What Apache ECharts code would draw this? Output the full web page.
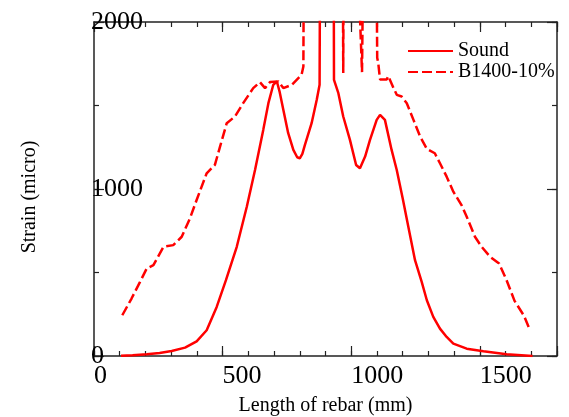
<!DOCTYPE html>
<html>
<head>
<meta charset="utf-8">
<script src="https://cdn.jsdelivr.net/npm/echarts@6/dist/echarts.min.js"></script>
<style>html,body{margin:0;padding:0;background:#fff;}#c{width:569px;height:417px;}</style>
</head>
<body>
<div id="c"></div>
<script>
// x: length of rebar (mm), y: strain (micro)
const soundX = [105,150,205,255,302,354,399,438,477,513,555,594,626,658,678,697,711,722,736,755,775,790,800,810,820,846,866,877,880,931,933,950,969,995,1019,1034,1054,1073,1099,1112,1131,1157,1177,1200,1222,1248,1274,1294,1319,1345,1371,1397,1449,1514,1604,1705];
const soundY = [2,5,10,18,30,50,88,154,294,454,654,894,1114,1354,1514,1624,1644,1580,1474,1334,1234,1190,1184,1210,1264,1394,1534,1624,2900,2900,1654,1574,1434,1294,1144,1124,1194,1294,1414,1444,1414,1234,1114,944,774,574,444,334,234,164,114,74,44,28,10,0];
const b1400X = [110,146,179,205,231,270,308,341,373,399,438,470,490,516,548,580,619,645,665,684,717,736,769,807,814,817,966,969,972,1013,1042,1050,1096,1101,1105,1112,1138,1144,1164,1177,1196,1216,1242,1268,1294,1325,1345,1371,1397,1430,1449,1481,1507,1540,1575,1604,1635,1672,1695];
const b1400Y = [244,344,444,524,544,654,664,714,824,934,1094,1144,1254,1394,1434,1514,1604,1640,1604,1640,1644,1604,1624,1684,1734,2900,2900,1694,2900,2900,1700,2900,2900,1786,1756,1656,1656,1676,1606,1564,1554,1514,1414,1314,1240,1214,1154,1074,984,900,834,714,654,594,554,454,330,240,154];
const seriesNames = ['Sound', 'B1400-10%'];
const xTicks = [0, 500, 1000, 1500];
const yTicks = [0, 1000, 2000];

const font = 'Liberation Serif, Times New Roman, serif';
const ax = '#222';
const zip = (xs, ys) => xs.map((x, i) => [x, ys[i]]);

function xAx(pos, interval, len, showLine, showLabel, extra) {
  return Object.assign({
    type: 'value', position: pos, min: 0, max: 1800, interval: interval,
    axisLine: { show: showLine, onZero: false, lineStyle: { color: ax, width: 1.5 } },
    axisTick: { show: true, inside: true, length: len, lineStyle: { color: ax, width: 1.2 } },
    axisLabel: { show: showLabel },
    splitLine: { show: false }
  }, extra || {});
}
function yAx(pos, interval, len, showLine, showLabel, extra) {
  return Object.assign({
    type: 'value', position: pos, min: 0, max: 2000, interval: interval,
    axisLine: { show: showLine, onZero: false, lineStyle: { color: ax, width: 1.5 } },
    axisTick: { show: true, inside: true, length: len, lineStyle: { color: ax, width: 1.2 } },
    axisLabel: { show: showLabel },
    splitLine: { show: false }
  }, extra || {});
}

const chart = echarts.init(document.getElementById('c'), null, { renderer: 'canvas' });
chart.setOption({
  animation: false,
  backgroundColor: '#fff',
  grid: { left: 94, top: 22, right: 12, bottom: 61, containLabel: false, outerBoundsMode: 'none' },
  legend: {
    orient: 'vertical', left: 407, top: 41, padding: 0, itemWidth: 45, itemHeight: 14, itemGap: 1,
    itemStyle: { opacity: 0 },
    textStyle: { fontFamily: font, fontSize: 20, color: '#000' },
    data: seriesNames
  },
  xAxis: [
    xAx('bottom', 500, 10, true, true, {
      name: 'Length of rebar (mm)', nameLocation: 'middle', nameGap: 40,
      nameTextStyle: { fontFamily: font, fontSize: 20, color: '#000' },
      axisLabel: {
        show: true, align: 'left', margin: 7, fontFamily: font, fontSize: 26, color: '#000',
        formatter: v => xTicks.indexOf(v) >= 0 ? String(v) : ''
      }
    }),
    xAx('bottom', 100, 5, false, false),
    xAx('top', 500, 10, true, false),
    xAx('top', 100, 5, false, false)
  ],
  yAxis: [
    yAx('left', 1000, 10, true, true, {
      name: 'Strain (micro)', nameLocation: 'middle', nameGap: 54, nameRotate: 90,
      nameTextStyle: { fontFamily: font, fontSize: 20, color: '#000', padding: [0, 16, 0, 0] },
      axisLabel: {
        show: true, align: 'left', margin: 3, fontFamily: font, fontSize: 26, color: '#000',
        formatter: v => yTicks.indexOf(v) >= 0 ? String(v) : ''
      }
    }),
    yAx('left', 500, 5, false, false),
    yAx('right', 1000, 10, true, false),
    yAx('right', 500, 5, false, false)
  ],
  series: [
    {
      name: seriesNames[0], type: 'line', xAxisIndex: 0, yAxisIndex: 0,
      data: zip(soundX, soundY), symbol: 'none', clip: true,
      lineStyle: { color: '#ff0000', width: 2.5, type: 'solid' },
      itemStyle: { color: '#ff0000' }
    },
    {
      name: seriesNames[1], type: 'line', xAxisIndex: 0, yAxisIndex: 0,
      data: zip(b1400X, b1400Y), symbol: 'none', clip: true,
      lineStyle: { color: '#ff0000', width: 2.5, type: [10, 4] },
      itemStyle: { color: '#ff0000' }
    }
  ]
});
</script>
</body>
</html>
